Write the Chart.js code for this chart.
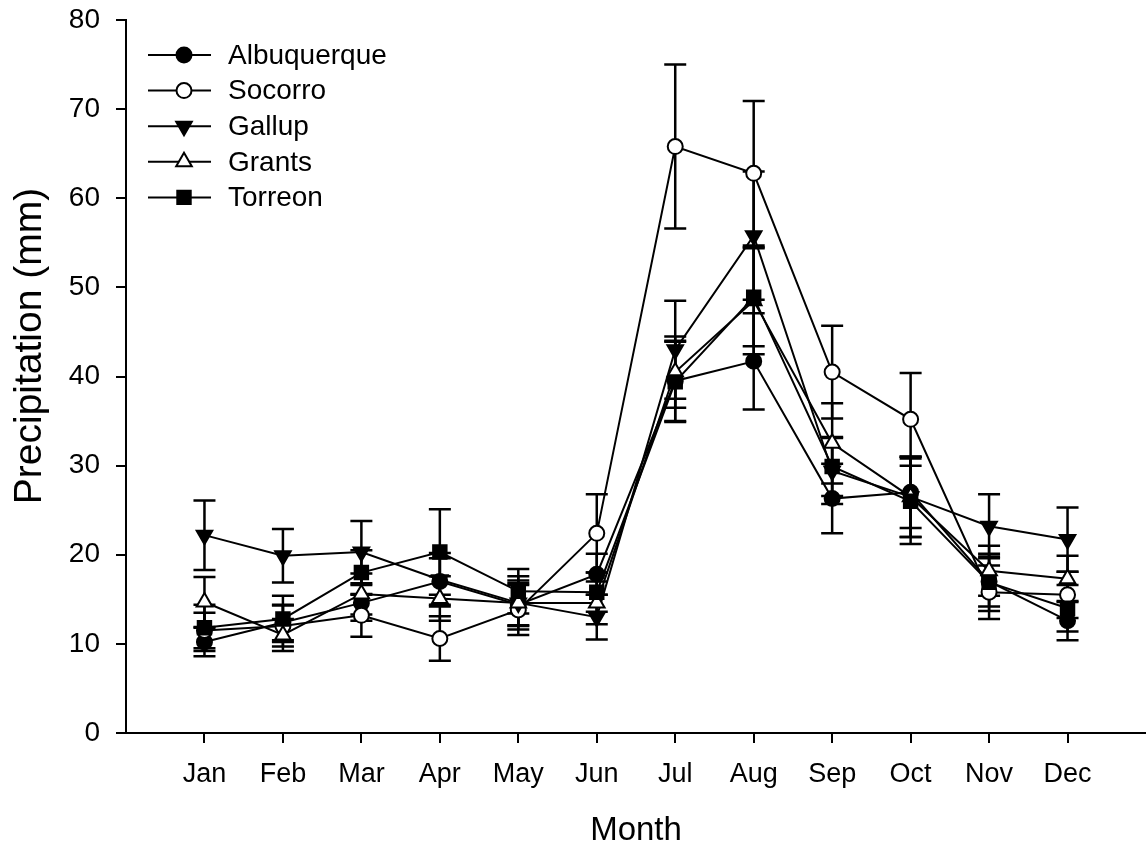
<!DOCTYPE html>
<html>
<head>
<meta charset="utf-8">
<script src="https://cdn.jsdelivr.net/npm/chart.js@4.4.0/dist/chart.umd.min.js"></script>
<style>
  html, body { margin: 0; padding: 0; background: #ffffff; }
  #wrap { width: 1146px; height: 850px; position: relative; }
</style>
</head>
<body>
<div id="wrap"><canvas id="chart"></canvas></div>
<script>
// Monthly mean precipitation (mm) with standard errors, five New Mexico stations
const months = ['Jan', 'Feb', 'Mar', 'Apr', 'May', 'Jun', 'Jul', 'Aug', 'Sep', 'Oct', 'Nov', 'Dec'];
const yTicks = [0, 10, 20, 30, 40, 50, 60, 70, 80];

const albuquerque    = [10.2, 12.4, 14.6, 17.0, 14.4, 17.8, 39.5, 41.7, 26.3, 27.0, 17.0, 12.6];
const albuquerqueErr = [1.6, 2.0, 2.0, 2.6, 2.4, 2.3, 4.5, 5.4, 3.9, 4.0, 2.8, 2.2];

const socorro    = [11.5, 12.0, 13.2, 10.6, 13.8, 22.4, 65.8, 62.8, 40.5, 35.2, 15.8, 15.5];
const socorroErr = [2.0, 2.3, 2.4, 2.5, 2.8, 4.4, 9.2, 8.1, 5.2, 5.2, 3.0, 2.6];

const gallup    = [22.2, 19.9, 20.3, 17.2, 14.6, 13.0, 43.0, 55.8, 29.4, 26.5, 23.2, 21.7];
const gallupErr = [3.9, 3.0, 3.5, 3.0, 3.0, 2.5, 5.5, 7.2, 3.7, 4.5, 3.6, 3.6];

const grants    = [14.7, 11.0, 15.6, 15.1, 14.6, 14.6, 40.5, 48.5, 32.5, 26.5, 18.2, 17.3];
const grantsErr = [2.8, 1.8, 2.3, 2.5, 2.5, 2.4, 4.0, 6.0, 4.5, 4.5, 2.8, 2.6];

const torreon    = [11.8, 12.8, 18.0, 20.3, 15.9, 15.8, 39.4, 48.9, 29.9, 26.0, 16.9, 14.0];
const torreonErr = [2.6, 2.6, 2.5, 4.8, 2.5, 2.2, 4.5, 5.5, 3.3, 4.8, 3.2, 2.6];

const FONT = '"Liberation Sans", Arial, sans-serif';

function toPoints(values) {
  return values.map((v, i) => ({ x: i + 1, y: v }));
}

function station(label, values, errors, style, filled, rotation, radius, order) {
  return {
    label,
    data: toPoints(values),
    errors,
    order,
    borderColor: '#000',
    borderWidth: 2,
    pointStyle: style,
    pointRotation: rotation,
    pointRadius: radius,
    pointBorderWidth: 2,
    pointBorderColor: '#000',
    pointBackgroundColor: filled ? '#000' : '#fff',
    tension: 0,
    fill: false
  };
}

const datasets = [
  station('Albuquerque', albuquerque, albuquerqueErr, 'circle', true, 0, 7.5, 4),
  station('Socorro', socorro, socorroErr, 'circle', false, 0, 7.5, 3),
  station('Gallup', gallup, gallupErr, 'triangle', true, 180, 9, 2),
  station('Grants', grants, grantsErr, 'triangle', false, 0, 9, 1),
  station('Torreon', torreon, torreonErr, 'rect', true, 0, 9.5, 0)
];

// Vertical error bars with caps, drawn beneath lines and markers
const errorBars = {
  id: 'errorBars',
  beforeDatasetsDraw(chart) {
    const { ctx, scales: { x, y } } = chart;
    ctx.save();
    ctx.strokeStyle = '#000';
    ctx.lineWidth = 2.5;
    chart.data.datasets.forEach((ds) => {
      ds.data.forEach((p, i) => {
        const e = ds.errors[i];
        const px = x.getPixelForValue(p.x);
        const top = y.getPixelForValue(p.y + e);
        const bot = y.getPixelForValue(p.y - e);
        ctx.beginPath();
        ctx.moveTo(px, top); ctx.lineTo(px, bot);
        ctx.moveTo(px - 11, top); ctx.lineTo(px + 11, top);
        ctx.moveTo(px - 11, bot); ctx.lineTo(px + 11, bot);
        ctx.stroke();
      });
    });
    ctx.restore();
  }
};

// Legend inside the plot: line segment through marker, then the station name
const insideLegend = {
  id: 'insideLegend',
  afterDraw(chart) {
    const { ctx } = chart;
    ctx.save();
    chart.data.datasets.forEach((ds, i) => {
      const cy = 55 + i * 35.6;
      ctx.strokeStyle = '#000';
      ctx.lineWidth = 2;
      ctx.beginPath();
      ctx.moveTo(148, cy); ctx.lineTo(211, cy);
      ctx.stroke();
      ctx.fillStyle = ds.pointBackgroundColor;
      ctx.strokeStyle = '#000';
      Chart.helpers.drawPoint(ctx, {
        pointStyle: ds.pointStyle,
        rotation: ds.pointRotation,
        radius: ds.pointRadius,
        borderWidth: 2
      }, 184, cy);
      ctx.fillStyle = '#000';
      ctx.font = '28px ' + FONT;
      ctx.textAlign = 'left';
      ctx.textBaseline = 'middle';
      ctx.fillText(ds.label, 228, cy + 1);
    });
    ctx.restore();
  }
};

// Axis titles
const axisTitles = {
  id: 'axisTitles',
  afterDraw(chart) {
    const { ctx, chartArea } = chart;
    ctx.save();
    ctx.fillStyle = '#000';
    ctx.textAlign = 'center';
    ctx.textBaseline = 'middle';
    ctx.font = '33px ' + FONT;
    ctx.fillText('Month', (chartArea.left + chartArea.right) / 2, 831);
    ctx.translate(30, 346);
    ctx.rotate(-Math.PI / 2);
    ctx.font = '39px ' + FONT;
    ctx.fillText('Precipitation (mm)', 0, 0);
    ctx.restore();
  }
};

new Chart(document.getElementById('chart'), {
  type: 'line',
  data: { datasets },
  options: {
    responsive: true,
    maintainAspectRatio: false,
    animation: false,
    devicePixelRatio: 1,
    layout: { autoPadding: false, padding: { top: 20, right: 0, left: 0, bottom: 0 } },
    plugins: { legend: { display: false }, tooltip: { enabled: false } },
    scales: {
      x: {
        type: 'linear',
        min: 0,
        max: 13,
        afterBuildTicks: (s) => { s.ticks = months.map((m, i) => ({ value: i + 1 })); },
        afterFit: (s) => { s.height = 117; s.paddingLeft = 0; s.paddingRight = 0; },
        ticks: {
          autoSkip: false,
          maxRotation: 0,
          color: '#000',
          padding: 15,
          font: { family: FONT, size: 27 },
          callback: (v) => months[v - 1] || ''
        },
        grid: { drawOnChartArea: false, drawTicks: true, tickLength: 10, color: '#000', lineWidth: 2 },
        border: { color: '#000', width: 2 }
      },
      y: {
        min: 0,
        max: 80,
        afterBuildTicks: (s) => { s.ticks = yTicks.map((v) => ({ value: v })); },
        afterFit: (s) => { s.width = 126; s.paddingTop = 0; s.paddingBottom = 0; },
        ticks: {
          color: '#000',
          padding: 16,
          font: { family: FONT, size: 28 }
        },
        grid: { drawOnChartArea: false, drawTicks: true, tickLength: 10, color: '#000', lineWidth: 2 },
        border: { color: '#000', width: 2 }
      }
    }
  },
  plugins: [errorBars, insideLegend, axisTitles]
});
</script>
</body>
</html>
